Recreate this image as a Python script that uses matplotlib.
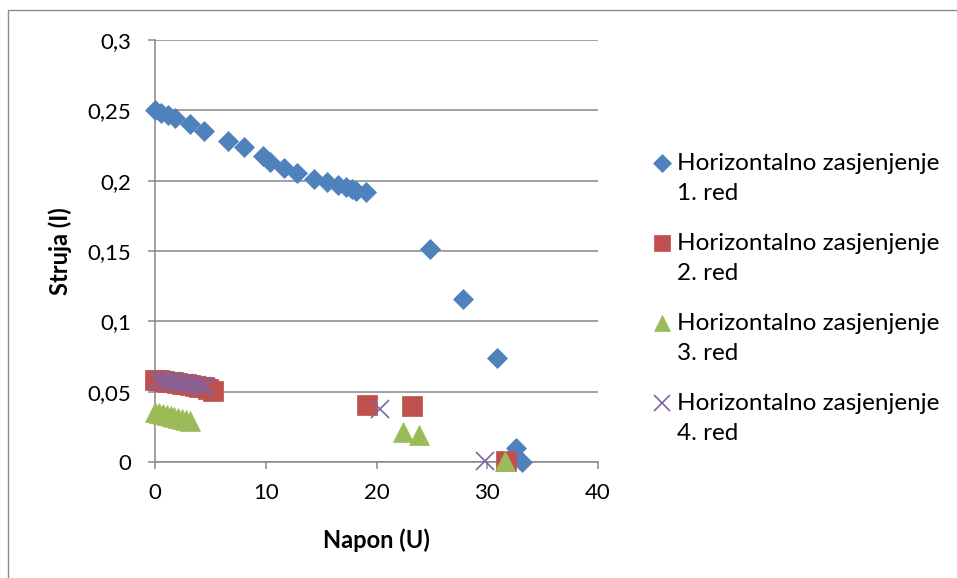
import matplotlib.pyplot as plt
from matplotlib.lines import Line2D
from matplotlib.patches import Rectangle
from matplotlib.ticker import FuncFormatter, MultipleLocator

plt.rcParams['font.family'] = ['Lato', 'DejaVu Sans']

## podaci (Napon U, Struja I)
red1_u = [0.0, 0.54, 1.17, 1.81, 3.16, 4.42, 6.59, 8.03, 9.75, 10.38, 11.64, 12.82,
          14.35, 15.52, 16.52, 17.24, 17.78, 18.14, 19.04, 24.82, 27.80, 30.87, 32.6, 33.1]
red1_i = [0.2502, 0.2481, 0.2467, 0.2445, 0.2403, 0.2353, 0.2282, 0.2239, 0.2175, 0.2133,
          0.2090, 0.2054, 0.2012, 0.1990, 0.1969, 0.1955, 0.1941, 0.1926, 0.1919, 0.1514,
          0.1159, 0.0740, 0.0097, 0.0002]

red2_u = [0.0, 0.4, 0.8, 1.2, 1.6, 2.0, 2.4, 2.8, 3.2, 3.6, 4.0, 4.4, 4.8, 5.2,
          19.1, 23.2, 31.7]
red2_i = [0.0584, 0.0580, 0.0575, 0.0570, 0.0566, 0.0561, 0.0556, 0.0551, 0.0546,
          0.0541, 0.0536, 0.0530, 0.0520, 0.0502, 0.0405, 0.0398, 0.0007]

red3_u = [0.0, 0.35, 0.7, 1.05, 1.4, 1.75, 2.1, 2.45, 2.8, 3.15, 22.4, 23.8, 31.6]
red3_i = [0.0355, 0.0349, 0.0343, 0.0336, 0.0329, 0.0321, 0.0314, 0.0306, 0.0299,
          0.0292, 0.0215, 0.0192, 0.0005]

red4_u = [0.2, 0.6, 1.0, 1.4, 1.8, 2.2, 2.6, 3.0, 3.4, 3.8, 4.2, 4.6, 20.3, 29.8]
red4_i = [0.0586, 0.0582, 0.0577, 0.0573, 0.0568, 0.0564, 0.0559, 0.0555, 0.0550,
          0.0545, 0.0540, 0.0533, 0.0377, 0.0007]

labels = ['1. red', '2. red', '3. red', '4. red']
series = [(red1_u, red1_i), (red2_u, red2_i), (red3_u, red3_i), (red4_u, red4_i)]
styles = [
    dict(marker='D', color='#4F81BD', ms=10.5, mew=0.5),
    dict(marker='s', color='#C0504D', ms=14, mew=0.5),
    dict(marker='^', color='#9BBB59', ms=14, mew=0.5),
    dict(marker='x', color='#8064A2', ms=13, mew=1.2),
]

gray = '#878787'
fs_tick = 16
fs_leg = 17.5
fs_lab = 17

fig = plt.figure(figsize=(9.57, 5.78), dpi=100)
ax = fig.add_axes([155/957, 1-462/578, (598-155)/957, (462-40)/578])

for (u, i), st in zip(series, styles):
    ax.plot(u, i, linestyle='none', clip_on=False, zorder=3,
            marker=st['marker'], color=st['color'], markersize=st['ms'],
            markeredgewidth=st['mew'])

ax.set_xlim(0, 40)
ax.set_ylim(0, 0.3)
ax.xaxis.set_major_locator(MultipleLocator(10))
ax.yaxis.set_major_locator(MultipleLocator(0.05))
ax.yaxis.set_major_formatter(FuncFormatter(lambda v, p: ('%g' % round(v, 3)).replace('.', ',')))
ax.xaxis.set_major_formatter(FuncFormatter(lambda v, p: '%g' % v))

ax.grid(axis='y', color=gray, linewidth=1.1)
ax.set_axisbelow(True)
for s in ['top', 'right']:
    ax.spines[s].set_visible(False)
for s in ['left', 'bottom']:
    ax.spines[s].set_color(gray)
    ax.spines[s].set_linewidth(1.1)
ax.tick_params(axis='both', direction='out', length=5, width=1.1, color=gray, labelsize=fs_tick)
ax.tick_params(axis='y', pad=12)
ax.tick_params(axis='x', pad=10)

ax.set_xlabel('Napon (U)', fontsize=fs_lab, fontweight='bold', va='center')
ax.xaxis.set_label_coords(0.5, (462-540)/422)
ax.set_ylabel('Struja (I)', fontsize=fs_lab, fontweight='bold', va='center')
ax.yaxis.set_label_coords((60-155)/443, 0.5)

## legenda
for k, (lab, st) in enumerate(zip(labels, styles)):
    yy = 1 - (163 + 80*k)/578
    fig.add_artist(Line2D([661.7/957], [yy], transform=fig.transFigure, linestyle='none',
                          marker=st['marker'], color=st['color'],
                          markersize=st['ms']*0.85, markeredgewidth=st['mew']))
    fig.text(677/957, yy, 'Horizontalno zasjenjenje', fontsize=fs_leg, va='center', ha='left')
    fig.text(677/957, yy - 31/578, lab, fontsize=fs_leg, va='center', ha='left')

fig.add_artist(Rectangle((8/957, -0.05), 1.0, 1.05 - 10/578, transform=fig.transFigure,
                         fill=False, edgecolor='#8c8c8c', linewidth=1))

fig.savefig('out.png', dpi=100)
